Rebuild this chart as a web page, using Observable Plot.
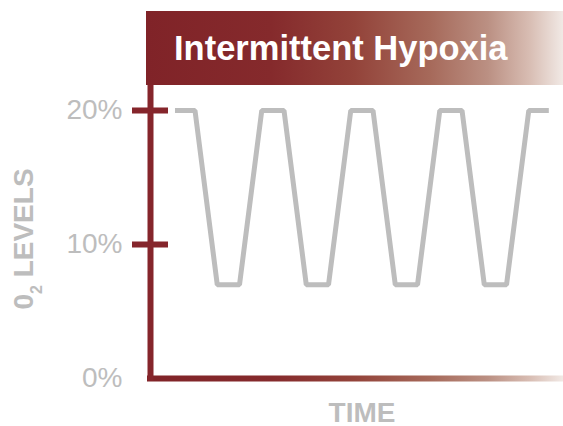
<!DOCTYPE html>
<html>
<head>
<meta charset="utf-8">
<script src="https://cdn.jsdelivr.net/npm/d3@7"></script>
<script src="https://cdn.jsdelivr.net/npm/@observablehq/plot@0.6"></script>
<style>
  body { margin: 0; background: #fff; font-family: "Liberation Sans", Arial, sans-serif; }
  #wrap { position: relative; width: 563px; height: 426px; overflow: hidden; }
  #banner {
    position: absolute; left: 146px; top: 11px; width: 417px; height: 74px;
    background: linear-gradient(to right, #802328 0%, #852a2c 30%, #93433a 50%, #a6695a 68%, #bb9083 82%, #d8bdb3 92%, #f1e9e5 100%);
    color: #fff; font-weight: bold; font-size: 34.5px; box-sizing: border-box;
    padding-left: 28px; line-height: 74px; white-space: nowrap;
  }
  #chart { position: absolute; left: 0; top: 85px; }
</style>
</head>
<body>
<div id="wrap">
  <div id="banner">Intermittent Hypoxia</div>
  <div id="chart"></div>
</div>
<script>
const title = "Intermittent Hypoxia";
const xLabel = "TIME";
const timePoints = [5.5, 10, 15, 20, 25, 30, 35, 40, 45, 50, 55, 60, 65, 70, 75, 80, 85, 89.5];
const o2Levels   = [20, 20, 7, 7, 20, 20, 7, 7, 20, 20, 7, 7, 20, 20, 7, 7, 20, 20];
const yTicks = [0, 10, 20];
const yTickLabels = ["0%", "10%", "20%"];
const redTicks = [10, 20];

const data = timePoints.map((t, i) => ({t, o2: o2Levels[i]}));
const red = "#85252b";
const gray = "#bdbdbd";

const svg = Plot.plot({
  width: 563,
  height: 341,
  marginLeft: 150,
  marginRight: 0,
  marginTop: 25,
  marginBottom: 48,
  style: {fontFamily: "Liberation Sans, Arial, sans-serif", overflow: "visible"},
  x: {domain: [0, 92.8], axis: null},
  y: {domain: [0, 20]},
  marks: [
    Plot.axisY(yTicks, {tickSize: 0, tickPadding: 28, fontSize: 28, fill: gray, tickFormat: (d) => yTickLabels[yTicks.indexOf(d)], label: null}),
    Plot.line(data, {x: "t", y: "o2", stroke: gray, strokeWidth: 5, strokeLinejoin: "miter", strokeLinecap: "butt"}),
    Plot.ruleY([0], {stroke: "url(#xgrad)", strokeWidth: 6, insetLeft: -3}),
    Plot.ruleX([0], {stroke: red, strokeWidth: 6, insetTop: -25, insetBottom: -3}),
    Plot.ruleY(redTicks, {x1: 0, x2: 0, insetLeft: -18, insetRight: -18, stroke: red, strokeWidth: 6}),
    Plot.text([xLabel], {frameAnchor: "bottom", dy: 43, dx: 5, fontSize: 28, fontWeight: "bold", fill: gray})
  ]
});

const s = d3.select(svg);
const defs = s.insert("defs", ":first-child");
const g = defs.append("linearGradient").attr("id", "xgrad")
  .attr("gradientUnits", "userSpaceOnUse").attr("x1", 146).attr("x2", 563).attr("y1", 0).attr("y2", 0);
[[0, "#802328"], [0.3, "#852a2c"], [0.5, "#93433a"], [0.68, "#a6695a"], [0.82, "#bb9083"], [0.92, "#d8bdb3"], [1, "#f1e9e5"]]
  .forEach(([o, c]) => g.append("stop").attr("offset", o).attr("stop-color", c));

const yl = s.append("text")
  .attr("transform", "translate(33,154) rotate(-90)")
  .attr("text-anchor", "middle")
  .attr("fill", gray)
  .attr("font-weight", "bold")
  .attr("font-size", 28)
  .attr("font-family", "Liberation Sans, Arial, sans-serif");
yl.append("tspan").text("0");
yl.append("tspan").attr("font-size", 16).attr("dy", 9).text("2");
yl.append("tspan").attr("dy", -9).text(" LEVELS");

document.getElementById("chart").appendChild(svg);
</script>
</body>
</html>
